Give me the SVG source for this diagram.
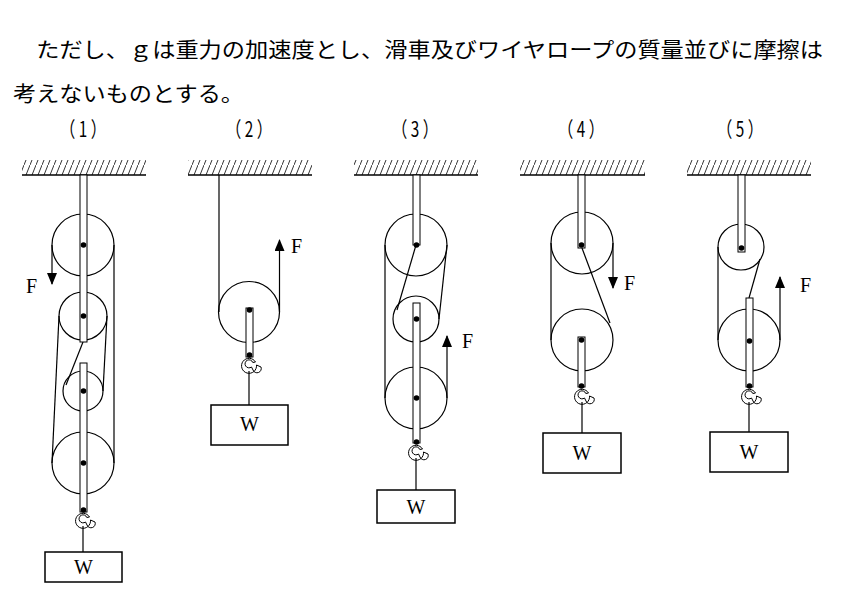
<svg xmlns="http://www.w3.org/2000/svg" width="841" height="605" viewBox="0 0 841 605">
<defs>
<pattern id="hatch" width="6" height="15" patternUnits="userSpaceOnUse">
<line x1="0" y1="15" x2="6" y2="0" stroke="#000" stroke-width="0.8"/>
</pattern>
<marker id="ah" viewBox="0 0 12 10" refX="11" refY="5" markerWidth="12" markerHeight="10" markerUnits="userSpaceOnUse" orient="auto">
<path d="M0,0 L12,5 L0,10 Z" fill="#000"/>
</marker>
<g id="hook"><path d="M6.5,-1 A7.5,7.5 0 1 0 7.5,2 L12,4 A4,4 0 0 1 4,7 L2.5,4 A4,4 0 1 1 3.8,-0.5 Z" fill="#fff" stroke="#000" stroke-width="1"/></g>
</defs>
<style>
.t{font-family:"Noto Sans CJK JP","Liberation Serif",serif;font-size:21px;fill:#000}
.l{font-family:"Liberation Serif","Noto Sans CJK JP",serif;font-size:20px;fill:#000}
.n{font-family:"Noto Sans CJK JP","Liberation Serif",serif;font-size:21px;fill:#000}
.p{fill:none;stroke:#000;stroke-width:1.2}
.r{fill:none;stroke:#000;stroke-width:1.2}
.rod{fill:#fff;stroke:#000;stroke-width:1}
.c{fill:#000;stroke:none}
.w{fill:#fff;stroke:#000;stroke-width:1.5}
.ceil{stroke:#000;stroke-width:1.5}
</style>
<g id="text">
<text class="t" x="13" y="57" textLength="810" lengthAdjust="spacingAndGlyphs">　ただし、ｇは重力の加速度とし、滑車及びワイヤロープの質量並びに摩擦は</text>
<text class="t" x="13" y="101" textLength="231" lengthAdjust="spacingAndGlyphs">考えないものとする。</text>
</g>
<g id="connectors" class="r">
<line x1="52" y1="245" x2="52" y2="284" marker-end="url(#ah)"/>
<line x1="114" y1="245" x2="114" y2="463"/>
<line x1="59" y1="316" x2="52" y2="463"/>
<line x1="107" y1="316" x2="103" y2="391"/>
<line x1="83" y1="342" x2="66" y2="385"/>
<line x1="219" y1="175" x2="219" y2="312"/>
<line x1="279.5" y1="312" x2="279.5" y2="240" marker-end="url(#ah)"/>
<line x1="385" y1="245" x2="385" y2="398"/>
<line x1="447" y1="245" x2="439" y2="319"/>
<line x1="416" y1="245" x2="397" y2="310"/>
<line x1="447" y1="398" x2="447" y2="336" marker-end="url(#ah)"/>
<line x1="551" y1="243" x2="551" y2="340"/>
<line x1="613" y1="243" x2="613" y2="288" marker-end="url(#ah)"/>
<line x1="582" y1="248" x2="610" y2="323"/>
<line x1="718" y1="247" x2="718" y2="340"/>
<line x1="780" y1="340" x2="780" y2="277" marker-end="url(#ah)"/>
<line x1="760" y1="259" x2="749" y2="298"/>
</g>
<g id="fig1">
<text class="n" x="60" y="137" textLength="46" lengthAdjust="spacingAndGlyphs">（ 1 ）</text>
<rect x="22" y="160" width="124" height="15" fill="url(#hatch)"/><line class="ceil" x1="22" y1="175" x2="146" y2="175"/>
<circle class="p" cx="83" cy="245" r="31"/><circle class="p" cx="83" cy="316" r="24"/><circle class="p" cx="83" cy="391" r="20"/><circle class="p" cx="83" cy="463" r="31"/>
<rect class="rod" x="80" y="175" width="7" height="167"/><rect class="rod" x="80" y="363" width="7" height="149"/>
<circle class="c" cx="83.5" cy="245" r="2.8"/><circle class="c" cx="83.5" cy="316" r="2.8"/><circle class="c" cx="83.5" cy="391" r="2.8"/><circle class="c" cx="83.5" cy="463" r="2.8"/><circle class="c" cx="83.5" cy="510" r="2.8"/>
<use href="#hook" x="83" y="518"/>
<line class="r" x1="83" y1="526" x2="83" y2="552"/>
<rect class="w" x="45" y="552" width="77" height="30"/><text class="l" x="83.5" y="574" text-anchor="middle">W</text>
<text class="l" x="26" y="293">F</text>
</g>
<g id="fig2">
<text class="n" x="226" y="137" textLength="46" lengthAdjust="spacingAndGlyphs">（ 2 ）</text>
<rect x="188" y="160" width="124" height="15" fill="url(#hatch)"/><line class="ceil" x1="188" y1="175" x2="312" y2="175"/>
<circle class="p" cx="249" cy="312" r="30.5"/>
<rect class="rod" x="246" y="308" width="7" height="49"/>
<circle class="c" cx="249.5" cy="310" r="2.8"/><circle class="c" cx="249.5" cy="355" r="2.8"/>
<use href="#hook" x="249" y="363"/>
<line class="r" x1="249" y1="371" x2="249" y2="405"/>
<rect class="w" x="211" y="405" width="77" height="40"/><text class="l" x="249.5" y="431" text-anchor="middle">W</text>
<text class="l" x="291" y="253">F</text>
</g>
<g id="fig3">
<text class="n" x="392" y="137" textLength="46" lengthAdjust="spacingAndGlyphs">（ 3 ）</text>
<rect x="354" y="160" width="124" height="15" fill="url(#hatch)"/><line class="ceil" x1="354" y1="175" x2="478" y2="175"/>
<circle class="p" cx="416" cy="245" r="31"/><circle class="p" cx="416" cy="319" r="23"/><circle class="p" cx="416" cy="398" r="31"/>
<rect class="rod" x="413" y="175" width="7" height="70"/><rect class="rod" x="413" y="303" width="7" height="140"/>
<circle class="c" cx="416.5" cy="245" r="2.8"/><circle class="c" cx="416.5" cy="319" r="2.8"/><circle class="c" cx="416.5" cy="398" r="2.8"/><circle class="c" cx="416.5" cy="442" r="2.8"/>
<use href="#hook" x="416" y="450"/>
<line class="r" x1="416" y1="458" x2="416" y2="490"/>
<rect class="w" x="377" y="490" width="78" height="33"/><text class="l" x="416" y="514" text-anchor="middle">W</text>
<text class="l" x="462" y="348">F</text>
</g>
<g id="fig4">
<text class="n" x="558" y="137" textLength="46" lengthAdjust="spacingAndGlyphs">（ 4 ）</text>
<rect x="520" y="160" width="125" height="15" fill="url(#hatch)"/><line class="ceil" x1="520" y1="175" x2="645" y2="175"/>
<circle class="p" cx="582" cy="243" r="31"/><circle class="p" cx="582" cy="340" r="31"/>
<rect class="rod" x="578" y="175" width="7" height="73"/><rect class="rod" x="578" y="337" width="7" height="50"/>
<circle class="c" cx="581.5" cy="245" r="2.8"/><circle class="c" cx="581.5" cy="340" r="2.8"/><circle class="c" cx="581.5" cy="386" r="2.8"/>
<use href="#hook" x="582" y="394"/>
<line class="r" x1="582" y1="402" x2="582" y2="433"/>
<rect class="w" x="543" y="433" width="78" height="40"/><text class="l" x="582" y="460" text-anchor="middle">W</text>
<text class="l" x="624" y="290">F</text>
</g>
<g id="fig5">
<text class="n" x="717" y="137" textLength="46" lengthAdjust="spacingAndGlyphs">（ 5 ）</text>
<rect x="687" y="160" width="124" height="15" fill="url(#hatch)"/><line class="ceil" x1="687" y1="175" x2="811" y2="175"/>
<circle class="p" cx="741" cy="247" r="23"/><circle class="p" cx="749" cy="340" r="31"/>
<rect class="rod" x="738" y="175" width="7" height="77"/><rect class="rod" x="746" y="298" width="7" height="89"/>
<circle class="c" cx="741.5" cy="248" r="2.8"/><circle class="c" cx="749.5" cy="341" r="2.8"/><circle class="c" cx="749.5" cy="386" r="2.8"/>
<use href="#hook" x="749" y="394"/>
<line class="r" x1="749" y1="402" x2="749" y2="432"/>
<rect class="w" x="710" y="432" width="78" height="40"/><text class="l" x="749" y="459" text-anchor="middle">W</text>
<text class="l" x="800" y="292">F</text>
</g>
</svg>
